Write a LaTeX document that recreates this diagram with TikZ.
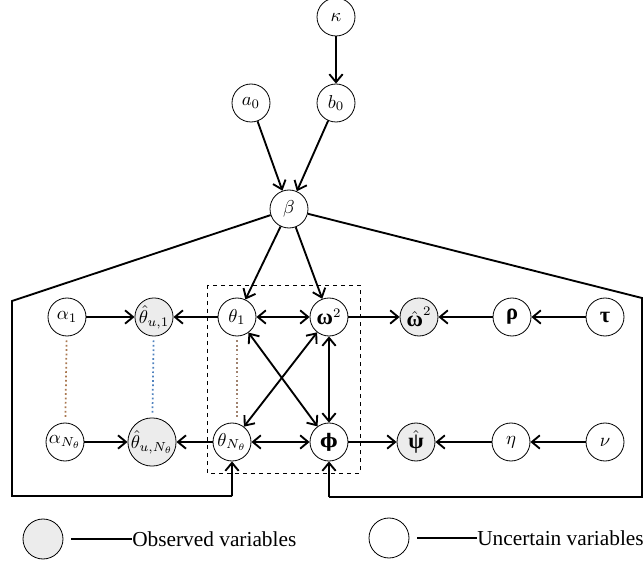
\documentclass[tikz,border=0pt]{standalone}
\usepackage{amsmath}
\usepackage{graphicx}
\usepackage{fontspec}
\newfontfamily\legendfont{Liberation Serif}
\newfontfamily\grk{Liberation Serif}
\newfontfamily\grkb{DejaVu Serif}
\newcommand{\bgk}[1]{\text{\grk\bfseries\fontsize{12}{14}\selectfont #1}}
\newcommand{\lab}[1]{\scalebox{1.4}{$#1$}}
\usepackage{tikz}
\usetikzlibrary{arrows.meta, positioning, calc}

\begin{document}
\begin{tikzpicture}[x=0.75pt, y=-0.75pt,
        var/.style={circle, draw, line width=0.6pt, fill=white, minimum size=28.5pt, inner sep=0pt},
        obs/.style={var, fill=gray!15},
        rel/.style={-{Straight Barb[length=6pt, width=10pt]}, line width=1.4pt},
        both/.style={{Straight Barb[length=6pt, width=10pt]}-{Straight Barb[length=6pt, width=10pt]}, line width=1.4pt},
        plate/.style={line width=1.4pt},
        dots/.style={dotted, line width=1.3pt, shorten <=3pt, shorten >=3pt},
        legend/.style={anchor=west, inner sep=0pt, font=\legendfont\fontsize{16}{18}\selectfont}
    ]
        \useasboundingbox (0,0) rectangle (644,567);

        % hyper-priors
        \node[var] (kap) at (336,17) {\lab{\kappa}};
        \node[var] (a0) at (251,103) {\lab{a_0}};
        \node[var] (b0) at (336,103) {\lab{b_0}};
        \node[var] (beta) at (289,209) {\lab{\beta}};

        % first row
        \node[var] (al1) at (67,317) {\lab{\alpha_1}};
        \node[obs] (thh1) at (154,317) {\lab{\hat{\theta}_{u,1}}};
        \node[var] (th1) at (237,317) {\lab{\theta_1}};
        \node[var] (om) at (329,317) {\lab{\bgk{ω}^2}};
        \node[obs] (omh) at (419,317) {\lab{\hat{\bgk{ω}}^2}};
        \node[var] (rho) at (512,317) {\lab{\bgk{ρ}}};
        \node[var] (tau) at (605,317) {\lab{\bgk{τ}}};

        % second row
        \node[var] (alN) at (65,442) {\lab{\alpha_{N_\theta}}};
        \node[obs] (thhN) at (152,442) {\lab{\hat{\theta}_{u,N_\theta}}};
        \node[var] (thN) at (232,442) {\lab{\theta_{N_\theta}}};
        \node[var] (phi) at (329,442) {\lab{\text{\grkb\bfseries\fontsize{10}{12}\selectfont ϕ}}};
        \node[obs] (psih) at (416,442) {\lab{\hat{\bgk{ψ}}}};
        \node[var] (eta) at (511,442) {\lab{\eta}};
        \node[var] (nu) at (605,442) {\lab{\nu}};

        % dashed group
        \draw[dashed, line width=0.6pt] (207,285) rectangle (360,473);

        % plates
        \coordinate (pltl) at (12,301);
        \coordinate (plbl) at (12,496);
        \coordinate (plbm) at (thN |- plbl);
        \coordinate (pltr) at (642,298);
        \coordinate (plbr) at (642,497);
        \coordinate (plbp) at (phi |- plbr);
        \draw[plate] (beta) -- (pltl) -- (plbl) -- (plbm);
        \draw[rel] (plbm) -- (thN);
        \draw[plate] (beta) -- (pltr) -- (plbr) -- (plbp);
        \draw[rel] (plbp) -- (phi);

        \draw[rel] (kap) -- (b0);
        \draw[rel] (a0) -- (beta);
        \draw[rel] (b0) -- (beta);
        \draw[rel] (beta) -- (th1);
        \draw[rel] (beta) -- (om);

        \draw[rel] (al1) -- (thh1);
        \draw[rel] (th1) -- (thh1);
        \draw[both] (th1) -- (om);
        \draw[rel] (om) -- (omh);
        \draw[rel] (rho) -- (omh);
        \draw[rel] (tau) -- (rho);

        \draw[both] (th1) -- (phi);
        \draw[both] (thN) -- (om);
        \draw[both] (om) -- (phi);

        \draw[rel] (alN) -- (thhN);
        \draw[rel] (thN) -- (thhN);
        \draw[both] (thN) -- (phi);
        \draw[rel] (phi) -- (psih);
        \draw[rel] (eta) -- (psih);
        \draw[rel] (nu) -- (eta);

        \draw[dots, color={rgb,255:red,170;green,120;blue,80}] (al1) -- (alN);
        \draw[dots, color={rgb,255:red,80;green,130;blue,190}] (thh1) -- (thhN);
        \draw[dots, color={rgb,255:red,160;green,130;blue,110}] (th1) -- (th1 |- thN.north);

        % legend
        \node[obs, minimum size=30pt] (legobs) at (43,539) {};
        \node[legend] (legobst) at (132,539) {Observed variables};
        \draw[plate, shorten <=6pt] (legobs) -- (legobst);
        \node[var, minimum size=30pt] (legunc) at (389,538) {};
        \node[legend] (leguncl) at (477,538) {Uncertain variables};
        \draw[plate, shorten <=6pt] (legunc) -- (leguncl);
    \end{tikzpicture}
\end{document}
